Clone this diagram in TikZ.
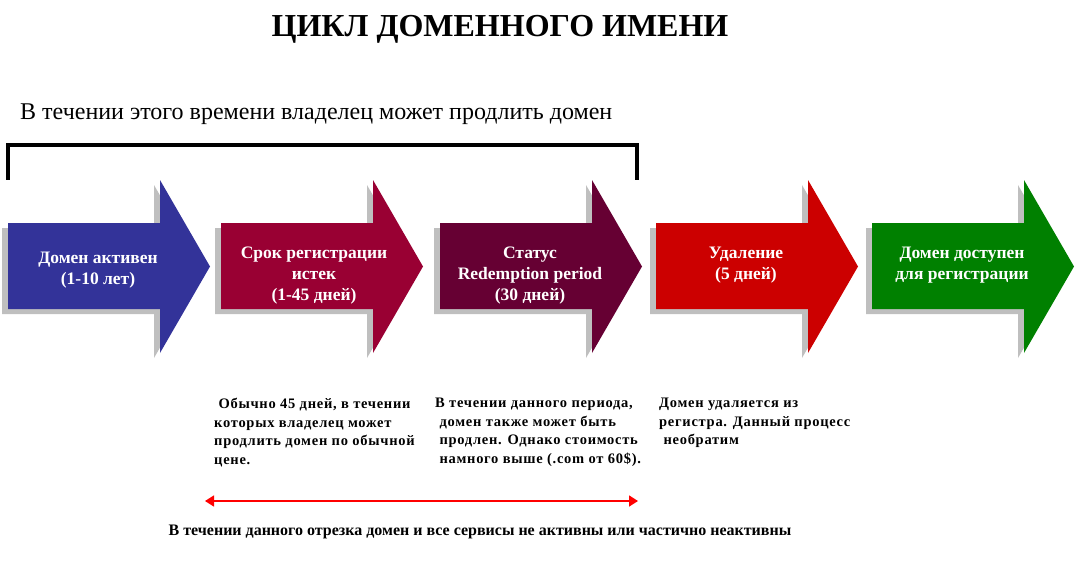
\documentclass[tikz,border=0pt]{standalone}
\usepackage{fontspec}
\setmainfont{Liberation Serif}
\newfontfamily\spacedserif[LetterSpace=5]{Liberation Serif}
\usetikzlibrary{arrows.meta}
\begin{document}
\begin{tikzpicture}[x=1pt,y=-1pt,
  shadowc/.style={fill=black!25},
  lbl/.style={font=\bfseries\fontsize{17.5}{21}\selectfont, text=white, align=center},
  note/.style={font=\spacedserif\bfseries\fontsize{14.5}{18.5}\selectfont, align=left, anchor=north west, inner sep=0pt},
  bracketline/.style={line width=3.5pt, line cap=rect},
  redarrow/.style={draw=red, line width=1.6pt, {Triangle[length=9pt,width=11pt]}-{Triangle[length=9pt,width=11pt]}}]
\definecolor{cblue}{HTML}{333399}
\definecolor{ccrim}{HTML}{990033}
\definecolor{cplum}{HTML}{660033}
\definecolor{cred}{HTML}{CC0000}
\definecolor{cgreen}{HTML}{008000}
\useasboundingbox (0,0) rectangle (1078,562);
\newcommand\bigarrow[3]{% left x, colour, name
  \fill[shadowc, shift={(-6,5)}] (#1,223) -- (#1+152,223) -- (#1+152,180) -- (#1+202,266.5) -- (#1+152,353) -- (#1+152,309) -- (#1,309) -- cycle;
  \fill[#2] (#1,223) -- (#1+152,223) -- (#1+152,180) -- (#1+202,266.5) -- (#1+152,353) -- (#1+152,309) -- (#1,309) -- cycle;
  \coordinate (#3) at (#1+90,266);
}
\bigarrow{8}{cblue}{a1}
\bigarrow{221}{ccrim}{a2}
\bigarrow{440}{cplum}{a3}
\bigarrow{656}{cred}{a4}
\bigarrow{872}{cgreen}{a5}

\node[lbl] (t1) at (98,270) {Домен активен\\(1-10 лет)};
\node[lbl] (t2) at (314,276) {Срок регистрации\\истек\\(1-45 дней)};
\node[lbl] (t3) at (530,276) {Статус\\Redemption period\\(30 дней)};
\node[lbl] (t4) at (746,265) {Удаление\\(5 дней)};
\node[lbl] (t5) at (962,265) {Домен доступен\\для регистрации};

\node[font=\bfseries\fontsize{32}{36}\selectfont, inner sep=0pt] (title) at (500,29) {ЦИКЛ ДОМЕННОГО ИМЕНИ};
\node[font=\fontsize{24}{28}\selectfont, anchor=west, inner sep=0pt] (sub) at (20,114) {В течении этого времени владелец может продлить домен};

\coordinate (bl) at (8,178);
\coordinate (br) at (637,178);
\draw[bracketline] (bl) -- (8,145) -- (637,145) -- (br);

\node[note] (n1) at (214,398) {\ Обычно 45 дней, в течении\\которых владелец может\\продлить домен по обычной\\цене.};
\node[note] (n2) at (435,398) {В течении данного периода,\\\ домен также может быть\\\ продлен. Однако стоимость\\\ намного выше (.com от 60\$).};
\node[note] (n3) at (659,398) {Домен удаляется из\\регистра. Данный процесс\\\ необратим};

\coordinate (ra) at (205,501);
\coordinate (rb) at (638,501);
\draw[redarrow] (ra) -- (rb);
\node[font=\bfseries\fontsize{16}{18}\selectfont, inner sep=0pt] (bottom) at (480,532) {В течении данного отрезка домен и все сервисы не активны или частично неактивны};
\end{tikzpicture}
\end{document}
